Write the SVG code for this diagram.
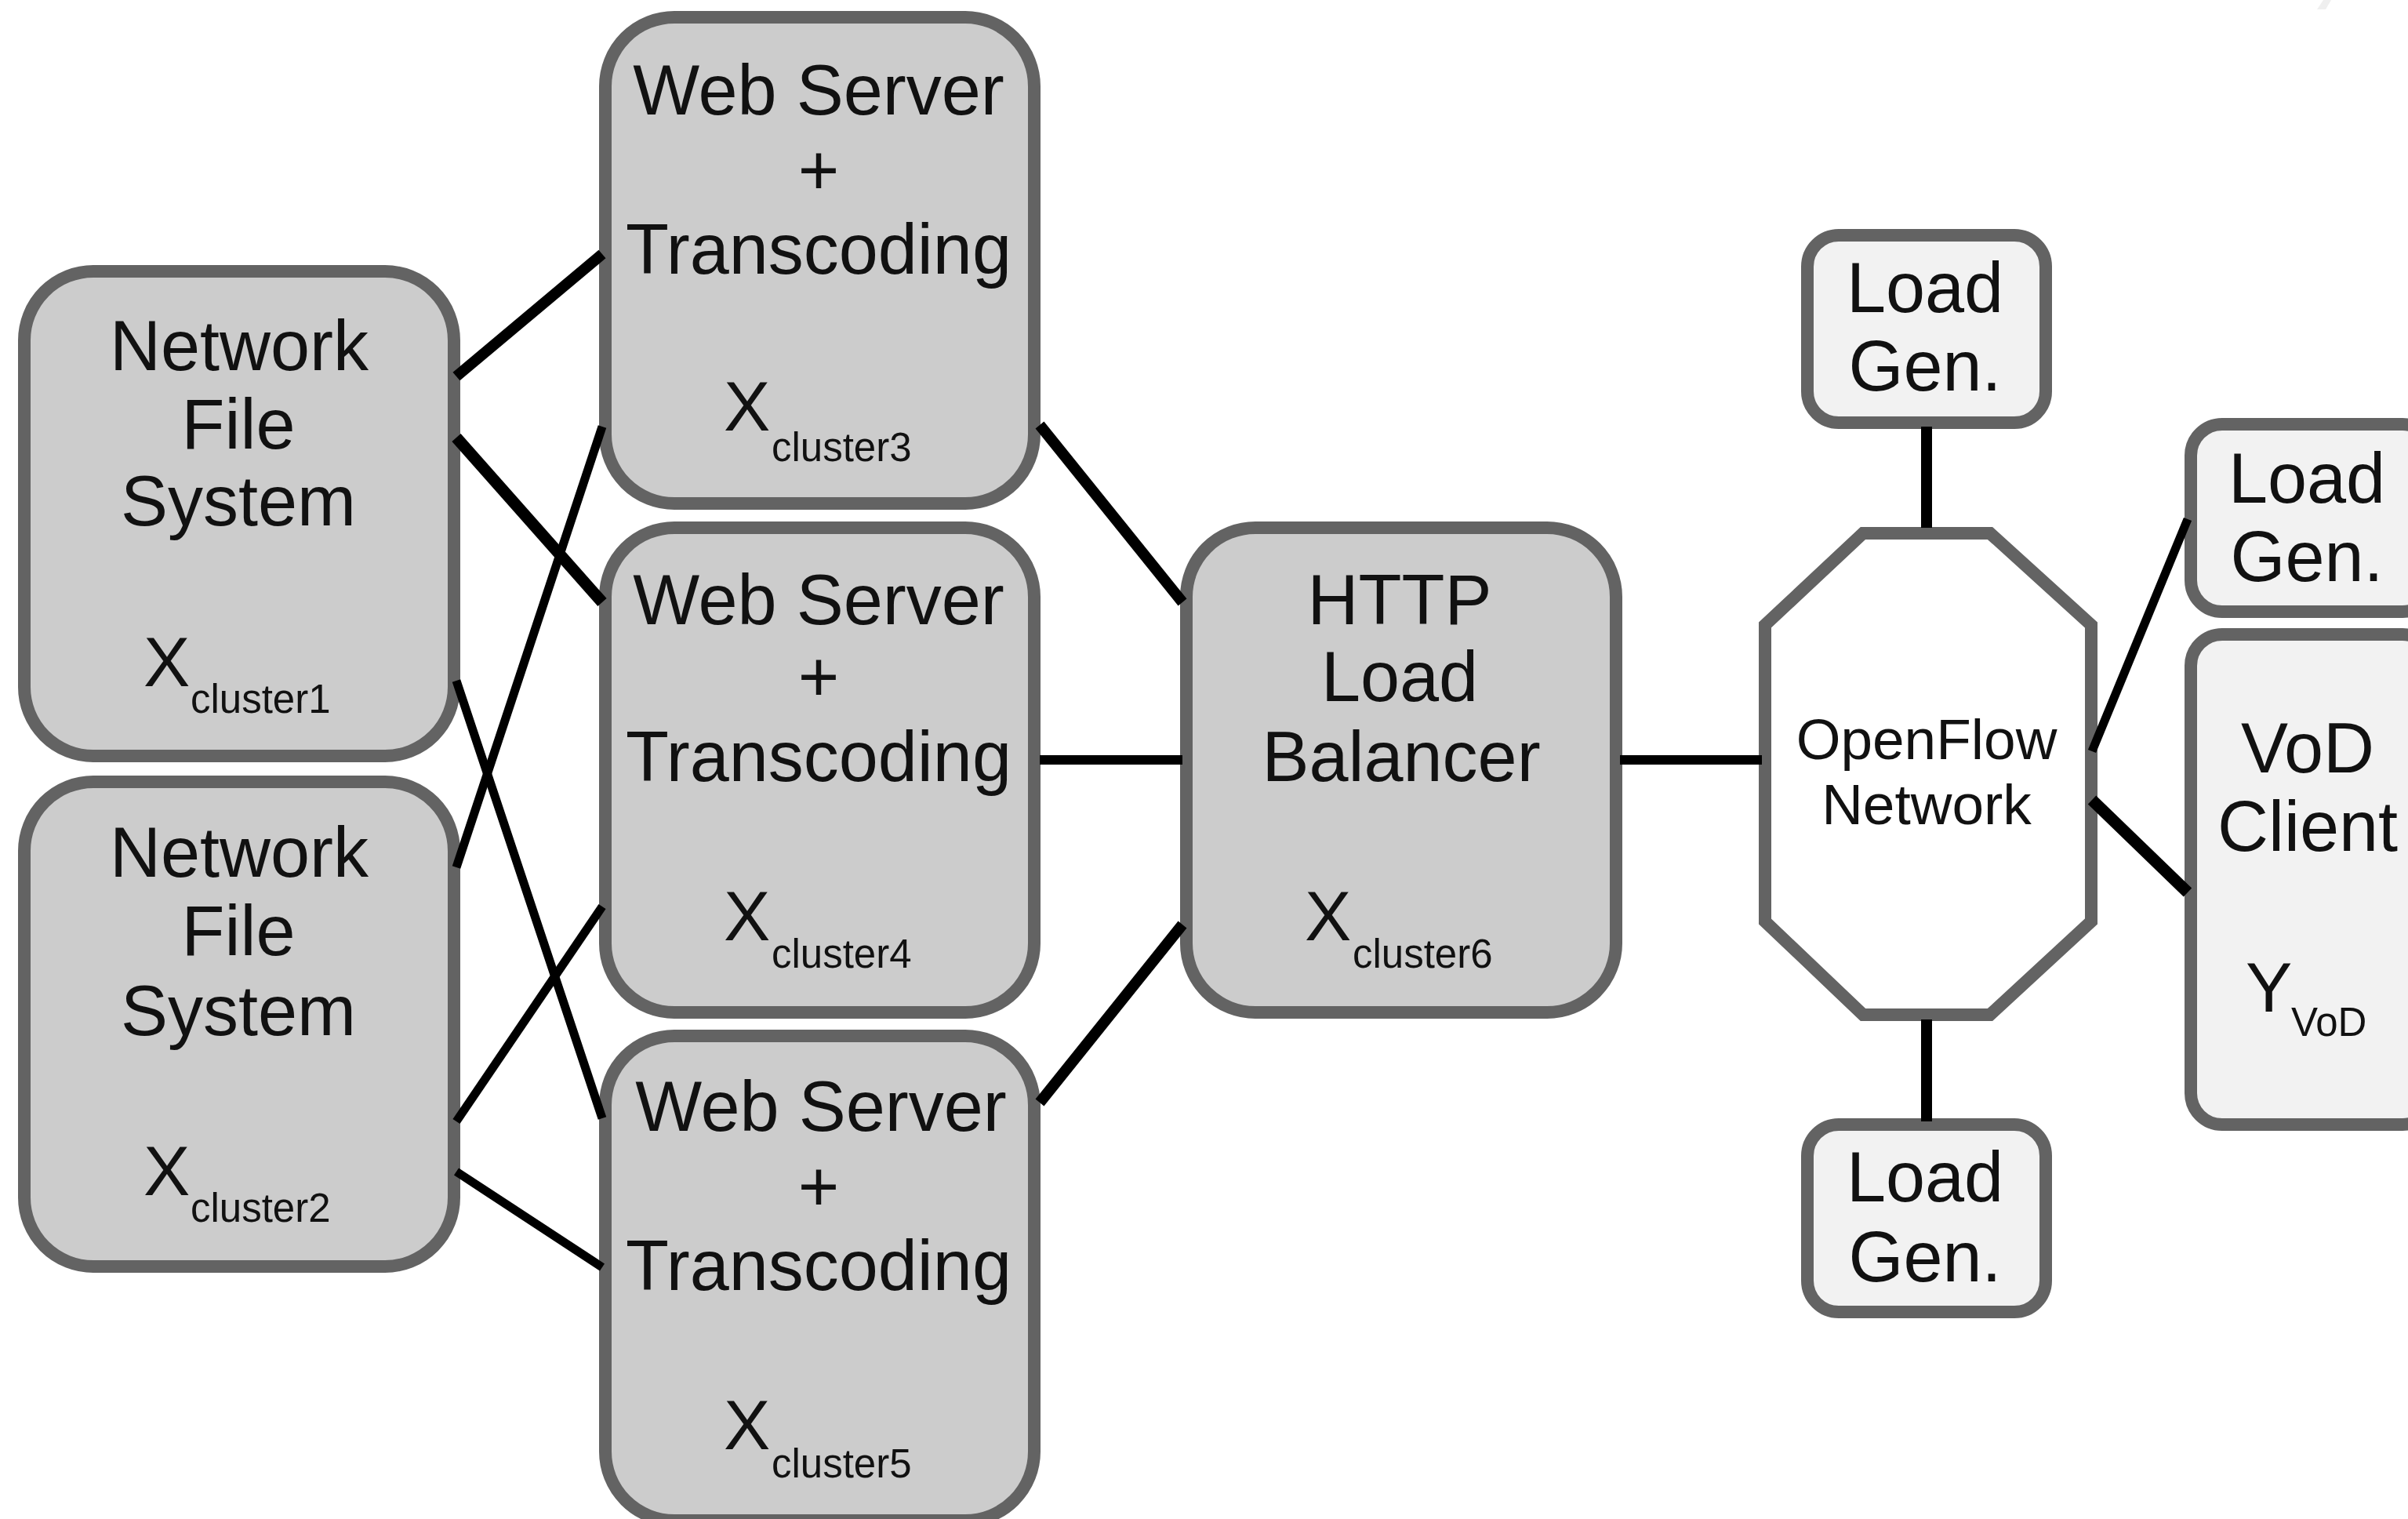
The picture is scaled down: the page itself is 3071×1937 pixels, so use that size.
<svg xmlns="http://www.w3.org/2000/svg" width="3071" height="1937" viewBox="0 0 3071 1937">
<style>
.box{fill:#cccccc;stroke:#636363;stroke-width:16}
.lite{fill:#f2f2f2;stroke:#636363;stroke-width:16}
.oct{fill:#ffffff;stroke:#636363;stroke-width:16}
text{font-family:"Liberation Sans",Arial,sans-serif;fill:#111111;text-anchor:middle}
.t{font-size:90px}
.s{font-size:73px}
.x{font-size:89px;text-anchor:start}
.c{font-size:51px;text-anchor:start}
.w{stroke:#000;fill:none}
</style>
<rect width="3071" height="1937" fill="#ffffff"/>
<polygon points="2955,12 2966,12 2973,0 2963,0" fill="#efefef"/>
<g id="nfs1"><rect class="box" x="31" y="346" width="548" height="618" rx="88"/>
<text class="t" x="305" y="472">Network</text><text class="t" x="304" y="572">File</text><text class="t" x="304" y="670">System</text>
<text class="x" x="183" y="875">X</text><text class="c" x="243" y="909">cluster1</text></g>
<g id="nfs2"><rect class="box" x="31" y="997" width="548" height="618" rx="88"/>
<text class="t" x="305" y="1118">Network</text><text class="t" x="304" y="1218">File</text><text class="t" x="304" y="1320">System</text>
<text class="x" x="183" y="1524">X</text><text class="c" x="243" y="1558">cluster2</text></g>
<g id="web3"><rect class="box" x="772" y="22" width="547" height="620" rx="88"/>
<text class="t" x="1044" y="146">Web Server</text><text class="t" x="1044" y="248">+</text><text class="t" x="1044" y="349">Transcoding</text>
<text class="x" x="923" y="549">X</text><text class="c" x="984" y="588">cluster3</text></g>
<g id="web4"><rect class="box" x="772" y="673" width="547" height="618" rx="88"/>
<text class="t" x="1044" y="796">Web Server</text><text class="t" x="1044" y="894">+</text><text class="t" x="1044" y="996">Transcoding</text>
<text class="x" x="923" y="1199">X</text><text class="c" x="984" y="1234">cluster4</text></g>
<g id="web5"><rect class="box" x="772" y="1321" width="547" height="618" rx="88"/>
<text class="t" x="1047" y="1442">Web Server</text><text class="t" x="1044" y="1544">+</text><text class="t" x="1044" y="1645">Transcoding</text>
<text class="x" x="923" y="1848">X</text><text class="c" x="984" y="1884">cluster5</text></g>
<g id="lb"><rect class="box" x="1513" y="673" width="548" height="618" rx="88"/>
<text class="t" x="1785" y="796">HTTP</text><text class="t" x="1785" y="894">Load</text><text class="t" x="1787" y="996">Balancer</text>
<text class="x" x="1664" y="1199">X</text><text class="c" x="1725" y="1234">cluster6</text></g>
<g id="load1"><rect class="lite" x="2305" y="300" width="304" height="239" rx="40"/>
<text class="t" x="2455" y="398">Load</text><text class="t" x="2455" y="498">Gen.</text></g>
<g id="load2"><rect class="lite" x="2794" y="541" width="310" height="239" rx="40"/>
<text class="t" x="2942" y="641">Load</text><text class="t" x="2942" y="741">Gen.</text></g>
<g id="vod"><rect class="lite" x="2794" y="809" width="310" height="625" rx="40"/>
<text class="t" x="2943" y="985">VoD</text><text class="t" x="2943" y="1085">Client</text>
<text class="x" x="2864" y="1290">Y</text><text class="c" x="2922" y="1321">VoD</text></g>
<g id="load3"><rect class="lite" x="2305" y="1434" width="304" height="239" rx="40"/>
<text class="t" x="2455" y="1532">Load</text><text class="t" x="2455" y="1634">Gen.</text></g>
<g id="openflow"><polygon class="oct" points="2376,680 2538,680 2667,797 2667,1175 2538,1294 2376,1294 2251,1175 2251,797"/>
<text class="s" x="2457" y="968">OpenFlow</text><text class="s" x="2457" y="1051">Network</text></g>
<g id="connectors" class="w">
<line x1="582" y1="480" x2="768" y2="324" stroke-width="14"/>
<line x1="582" y1="558" x2="768" y2="768" stroke-width="15"/>
<line x1="582" y1="868" x2="768" y2="1426" stroke-width="11"/>
<line x1="582" y1="1106" x2="768" y2="544" stroke-width="11"/>
<line x1="582" y1="1430" x2="768" y2="1156" stroke-width="11"/>
<line x1="582" y1="1494" x2="768" y2="1616" stroke-width="11"/>
<line x1="1326" y1="542" x2="1508" y2="768" stroke-width="14"/>
<line x1="1326" y1="969" x2="1508" y2="969" stroke-width="12"/>
<line x1="1326" y1="1406" x2="1508" y2="1179" stroke-width="14"/>
<line x1="2066" y1="969" x2="2247" y2="969" stroke-width="12"/>
<line x1="2457" y1="544" x2="2457" y2="673" stroke-width="14"/>
<line x1="2457" y1="1300" x2="2457" y2="1430" stroke-width="14"/>
<line x1="2668" y1="958" x2="2790" y2="662" stroke-width="11"/>
<line x1="2668" y1="1020" x2="2790" y2="1138" stroke-width="15"/>
</g>
</svg>
